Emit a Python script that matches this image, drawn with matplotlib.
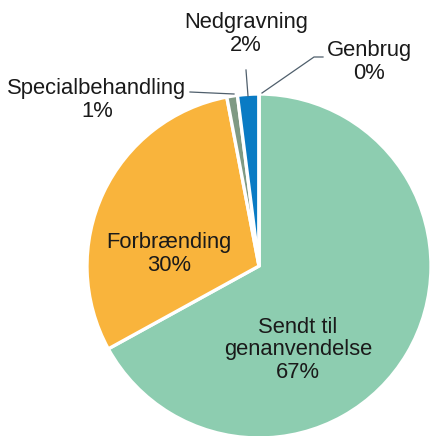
import matplotlib.pyplot as plt

# Affaldsbehandling, andel i procent
labels = ["Sendt til\ngenanvendelse", "Forbrænding", "Specialbehandling", "Nedgravning", "Genbrug"]
values = [67, 30, 1, 2, 0]
pct_text = ["67%", "30%", "1%", "2%", "0%"]
colors = ["#8dcdb0", "#f9b43c", "#7f9a84", "#0a7bc4", "#ffffff"]

fig = plt.figure(figsize=(4.31, 4.36), dpi=100)
ax = fig.add_axes([0, 0, 1, 1])

# y axis is inverted below, so startangle -90 is the top and counterclock runs clockwise on screen
ax.pie(
    values,
    colors=colors,
    center=(259, 266),
    radius=172,
    startangle=-90,
    counterclock=True,
    wedgeprops={"edgecolor": "white", "linewidth": 2.4},
    frame=True,
)
ax.set_xlim(0, 431)
ax.set_ylim(436, 0)  # pixel-style coordinates, y down
ax.set_aspect("equal")
ax.axis("off")

font = dict(family="Liberation Sans", fontsize=15.8, color="#1a1a1a",
            ha="center", va="center", linespacing=1.1)

# labels inside the big slices
ax.text(298, 350, labels[0] + "\n" + pct_text[0], **font)
ax.text(169, 254, labels[1] + "\n" + pct_text[1], **font)

# small slices with leader lines
ax.text(97, 100, labels[2] + "\n" + pct_text[2], **font)
ax.text(246, 34, labels[3] + "\n" + pct_text[3], **font)
ax.text(369, 62, labels[4] + "\n" + pct_text[4], **font)

line = dict(color="#4f5f6c", linewidth=0.9)
ax.plot([190, 234], [92, 94], **line)
ax.plot([246, 248], [70, 96], **line)
ax.plot([262, 314, 323], [93, 57, 57], **line)

fig.savefig("out.png", dpi=100)
